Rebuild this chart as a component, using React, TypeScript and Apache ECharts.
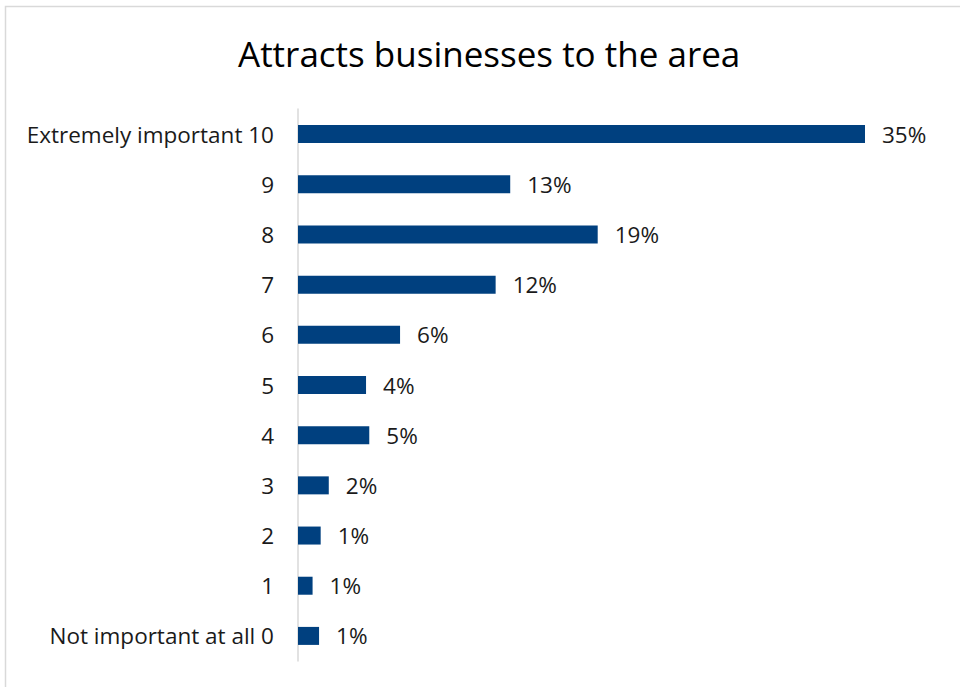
import React, { useEffect, useRef } from "react";
import * as echarts from "echarts";

const title = "Attracts businesses to the area";
const categories = [
  "Extremely important 10",
  "9",
  "8",
  "7",
  "6",
  "5",
  "4",
  "3",
  "2",
  "1",
  "Not important at all 0",
];
const values = [35.0, 13.1, 18.5, 12.2, 6.3, 4.2, 4.4, 1.9, 1.4, 0.9, 1.3];
const valueLabels = ["35%", "13%", "19%", "12%", "6%", "4%", "5%", "2%", "1%", "1%", "1%"];

const FONT = "'Open Sans', 'Noto Sans', sans-serif";

export default function App() {
  const ref = useRef<HTMLDivElement>(null);
  useEffect(() => {
    if (!ref.current) return;
    const chart = echarts.init(ref.current, undefined, { renderer: "svg" });
    chart.setOption({
      animation: false,
      backgroundColor: "#ffffff",
      title: {
        text: title,
        left: 233,
        top: 31,
        textStyle: {
          fontFamily: FONT,
          fontSize: 35,
          fontWeight: "normal",
          color: "#000000",
        },
      },
      graphic: [
        {
          type: "rect",
          shape: { x: 5.5, y: 6.5, width: 1200, height: 1200 },
          style: { fill: "none", stroke: "#d9d9d9", lineWidth: 1.5 },
          silent: true,
        },
      ],
      grid: { left: 298, top: 109, width: 648, height: 552, containLabel: false },
      xAxis: {
        type: "value",
        min: 0,
        max: 40,
        show: false,
        splitLine: { show: false },
      },
      yAxis: {
        type: "category",
        inverse: true,
        data: categories,
        axisLine: { show: true, lineStyle: { color: "#d9d9d9", width: 1.5 } },
        axisTick: { show: false },
        axisLabel: {
          margin: 24,
          fontFamily: FONT,
          fontSize: 22.5,
          color: "#1a1a1a",
        },
      },
      series: [
        {
          type: "bar",
          data: values,
          barWidth: 18,
          itemStyle: { color: "#00407f" },
          label: {
            show: true,
            position: "right",
            distance: 17,
            fontFamily: FONT,
            fontSize: 22.5,
            color: "#1a1a1a",
            formatter: (p: any) => valueLabels[p.dataIndex],
          },
        },
      ],
    });
    return () => chart.dispose();
  }, []);
  return (
    <div
      ref={ref}
      style={{ position: "fixed", left: 0, top: 0, width: 960, height: 687 }}
    />
  );
}
